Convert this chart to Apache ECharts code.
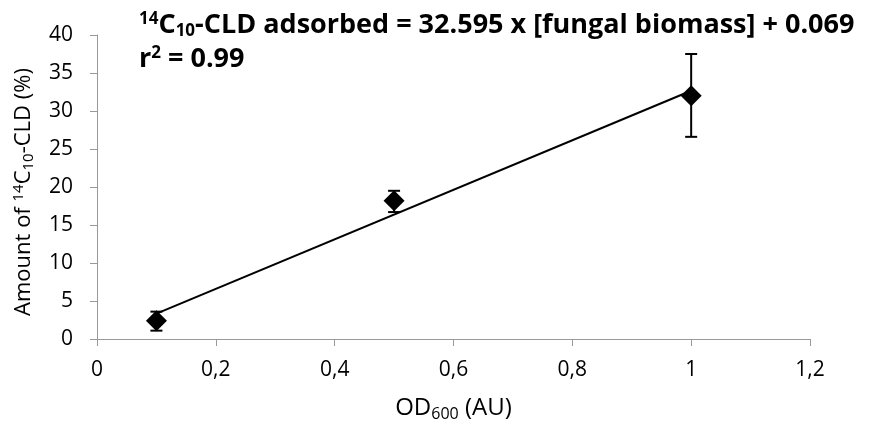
<!DOCTYPE html>
<html><head><meta charset="utf-8">
<script src="https://cdn.jsdelivr.net/npm/echarts@6/dist/echarts.min.js"></script>
<style>html,body{margin:0;padding:0;background:#fff}#c{width:871px;height:427px}</style>
</head><body><div id="c"></div>
<script>
const xValues = [0.1, 0.5, 1.0];
const yValues = [2.4, 18.2, 32.0];
const errLow = [1.1, 16.7, 26.6];
const errHigh = [3.6, 19.5, 37.5];
const trendX = [0.1, 1.0];
const trendY = [3.33, 32.66];
const xTicks = [0, 0.2, 0.4, 0.6, 0.8, 1.0, 1.2];
const yTicks = [0, 5, 10, 15, 20, 25, 30, 35, 40];

const FONT = '"Open Sans", Lato, sans-serif';
const chart = echarts.init(document.getElementById('c'));
const points = xValues.map((x, i) => [x, yValues[i]]);
const errs = xValues.map((x, i) => [x, errLow[i], errHigh[i]]);
const trend = trendX.map((x, i) => [x, trendY[i]]);

chart.setOption({
  animation: false,
  title: {
    left: 134, top: 3,
    text: '{sup|14}{b|C}{sub|10}{b|-CLD adsorbed = 32.595 x [fungal biomass] + 0.069}\n{b|r}{sup|2}{b| = 0.99}',
    textStyle: {
      fontFamily: FONT, fontWeight: 'bold', fontSize: 27, color: '#000', lineHeight: 34,
      rich: {
        b: {fontFamily: FONT, fontWeight: 'bold', fontSize: 27, color: '#000', lineHeight: 34},
        sup: {fontFamily: FONT, fontWeight: 'bold', fontSize: 17, color: '#000', padding: [0, 0, 12, 0], lineHeight: 34},
        sub: {fontFamily: FONT, fontWeight: 'bold', fontSize: 17, color: '#000', padding: [12, 0, 0, 0], lineHeight: 34}
      }
    }
  },
  grid: {left: 97, right: 61, top: 35, bottom: 88},
  graphic: [{
    type: 'text', x: 24, y: 192, rotation: Math.PI / 2,
    style: {
      text: '{n|Amount of }{s|14}{n|C}{b|10}{n|-CLD (%)}',
      align: 'center', verticalAlign: 'middle',
      rich: {
        n: {fontFamily: FONT, fontSize: 22, fill: '#000'},
        s: {fontFamily: FONT, fontSize: 15, fill: '#000', padding: [0, 0, 10, 0]},
        b: {fontFamily: FONT, fontSize: 15, fill: '#000', padding: [10, 0, 0, 0]}
      }
    }
  }],
  xAxis: {
    type: 'value', min: 0, max: 1.2, interval: 0.2,
    axisLine: {show: true, lineStyle: {color: '#999', width: 1}},
    axisTick: {show: true, length: 7, lineStyle: {color: '#999'}},
    splitLine: {show: false},
    axisLabel: {
      fontFamily: FONT, fontSize: 21, color: '#000', margin: 21,
      formatter: v => { const t = xTicks.find(k => Math.abs(k - v) < 1e-9); return String(+(t ?? v).toFixed(1)).replace('.', ','); }
    },
    name: '{n|OD}{s|600}{n| (AU)}',
    nameLocation: 'middle', nameGap: 56,
    nameTextStyle: {
      fontFamily: FONT, fontSize: 24, color: '#000',
      rich: {
        n: {fontFamily: FONT, fontSize: 24, color: '#000'},
        s: {fontFamily: FONT, fontSize: 16, color: '#000', padding: [11, 0, 0, 0]}
      }
    }
  },
  yAxis: {
    type: 'value', min: 0, max: 40, interval: 5,
    axisLine: {show: true, lineStyle: {color: '#999', width: 1}},
    axisTick: {show: true, length: 7, lineStyle: {color: '#999'}},
    splitLine: {show: false},
    axisLabel: {fontFamily: FONT, fontSize: 21, color: '#000', margin: 24}
  },
  series: [
    {
      type: 'line', data: trend, symbol: 'none', z: 2,
      lineStyle: {color: '#000', width: 2}
    },
    {
      type: 'custom', data: errs, z: 3,
      renderItem: (params, api) => {
        const x = api.value(0);
        const lo = api.coord([x, api.value(1)]);
        const hi = api.coord([x, api.value(2)]);
        const w = 6;
        const st = {stroke: '#000', lineWidth: 2};
        return {type: 'group', children: [
          {type: 'line', shape: {x1: lo[0], y1: lo[1], x2: hi[0], y2: hi[1]}, style: st},
          {type: 'line', shape: {x1: lo[0] - w, y1: lo[1], x2: lo[0] + w, y2: lo[1]}, style: st},
          {type: 'line', shape: {x1: hi[0] - w, y1: hi[1], x2: hi[0] + w, y2: hi[1]}, style: st}
        ]};
      }
    },
    {
      type: 'scatter', data: points, symbol: 'diamond', symbolSize: [21, 21], z: 4,
      itemStyle: {color: '#000', opacity: 1}
    }
  ]
});
</script></body></html>
